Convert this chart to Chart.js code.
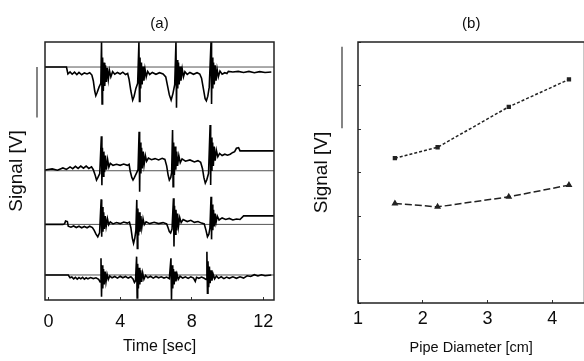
<!DOCTYPE html>
<html lang="en">
<head>
<meta charset="UTF-8">
<title>Signal traces and pipe diameter</title>
<script src="https://cdn.jsdelivr.net/npm/chart.js"></script>
<style>
  html, body { margin: 0; padding: 0; background: #fff; overflow: hidden; }
  #wrapA { position: absolute; left: 0; top: 0; width: 290px; height: 361px; }
  #wrapB { position: absolute; left: 290px; top: 0; width: 300px; height: 361px; }
</style>
</head>
<body>
<div id="wrapA"><canvas id="chartA" width="290" height="361"></canvas></div>
<div id="wrapB"><canvas id="chartB" width="300" height="361"></canvas></div>
<script>
// ---- panel (a): four signal traces, [time sec, signal] ----
const timeTicks = [0, 4, 8, 12];
const baselines = [90.3, 50.1, 29.3, 9.7];

const trace1 = [[-0.2,90.3],[1.0,90.3],[1.08,87.6],[1.2,88.4],[1.32,87.5],[1.45,88.3],[1.58,87.4],[1.7,88.2],[1.85,87.3],[2.0,88],[2.15,87.6],[2.3,88.1],[2.42,87.2],[2.5,85],[2.58,81],[2.64,79.2],[2.72,80.5],[2.82,82.5],[2.92,84],
  [2.96,100],[2.99,76],[3.02,94],[3.06,81],[3.1,92],[3.14,83],[3.18,91],[3.23,84.5],[3.28,90],[3.34,85.5],[3.4,89],[3.48,86.5],[3.58,88.5],[3.7,87.5],[3.85,88.2],[4.0,87.6],[4.15,88.3],[4.3,87.4],[4.42,87.8],[4.5,85.5],[4.6,81],[4.7,77.5],[4.78,79],[4.88,82],[4.98,84],
  [5.05,100],[5.08,77],[5.11,94],[5.15,82],[5.19,92],[5.23,83.5],[5.28,90.5],[5.33,85],[5.39,89.5],[5.46,86.5],[5.54,88.6],[5.65,87.4],[5.8,88.2],[6.0,87.5],[6.2,88.1],[6.4,87.6],[6.55,86.5],[6.65,83],[6.75,79.5],[6.85,77.5],[6.95,80],[7.05,83.5],
  [7.12,100],[7.15,74.5],[7.18,93],[7.22,82],[7.26,92],[7.3,83.5],[7.35,90.5],[7.4,85],[7.47,89.5],[7.54,86.5],[7.62,88.5],[7.75,87.4],[7.9,88.2],[8.1,87.5],[8.3,88.1],[8.45,87.6],[8.55,86],[8.65,82],[8.75,78],[8.82,77.2],[8.9,79],[8.98,82.5],
  [9.08,100],[9.11,76],[9.14,94],[9.18,82],[9.22,92],[9.26,83.5],[9.31,91],[9.36,85],[9.42,89.5],[9.49,86.5],[9.58,88.7],[9.7,87.5],[9.85,88.1],[9.97,87.8],[10.05,88.6],[10.3,88.4],[10.6,88.6],[10.9,88.2],[11.2,88.6],[11.5,88.1],[11.8,88.5],[12.1,88.2],[12.45,88.4]];

const trace2 = [[-0.2,50.4],[0.2,50.8],[0.5,50.3],[0.8,51.2],[1.0,50.6],[1.2,51.6],[1.35,50.9],[1.5,51.8],[1.65,51],[1.8,51.9],[1.95,51.1],[2.1,51.9],[2.25,51],[2.4,51.6],[2.5,50.5],[2.6,48.5],[2.68,46.5],[2.76,47.5],[2.86,49],
  [2.95,63.5],[2.98,44.5],[3.01,59],[3.05,48],[3.09,57.5],[3.13,49.5],[3.18,56],[3.23,50.5],[3.3,54.5],[3.37,51.5],[3.45,53],[3.6,52.2],[3.8,52.6],[4.0,52.2],[4.2,52.7],[4.4,52.2],[4.5,52.6],[4.56,50],[4.65,47.5],[4.72,46.5],[4.8,47.5],[4.9,49],[5.0,50.5],
  [5.06,65.2],[5.09,42],[5.12,61],[5.16,49],[5.2,59],[5.24,51],[5.29,57.5],[5.34,52.5],[5.41,56],[5.48,53.8],[5.58,55],[5.75,54.4],[5.95,54.8],[6.15,54.3],[6.35,54.9],[6.5,54.5],[6.6,52],[6.68,48.5],[6.75,46.5],[6.83,47.5],[6.88,49.5],
  [6.93,65.9],[6.96,43.9],[6.99,61],[7.03,48.5],[7.07,59.5],[7.11,50.5],[7.16,57.5],[7.21,52],[7.28,56],[7.36,53.2],[7.46,54.7],[7.65,53.8],[7.9,54.3],[8.15,53.5],[8.35,54],[8.5,53.4],[8.6,51],[8.68,47.5],[8.76,45.3],[8.84,46.5],[8.94,49],
  [9.03,67.8],[9.06,44.6],[9.09,63],[9.13,50],[9.17,61],[9.21,52],[9.26,59.5],[9.31,54],[9.38,58],[9.46,55.5],[9.56,56.8],[9.7,56],[9.85,56.5],[10.0,56.1],[10.15,56.5],[10.3,57.2],[10.4,57.5],[10.5,58.8],[10.62,59],[10.7,57.8],[11.2,57.8],[11.8,57.8],[12.6,57.8]];

const trace3 = [[-0.2,29.3],[0.8,29.3],[0.9,29.6],[0.95,30.6],[1.05,30.4],[1.1,28.6],[1.25,28.2],[1.4,28.7],[1.55,28.1],[1.7,28.6],[1.85,28],[2.0,28.5],[2.15,28],[2.3,28.6],[2.45,28.1],[2.55,27],[2.65,25.5],[2.75,24.5],[2.85,26],
  [2.94,39],[2.97,24.5],[3.0,36],[3.04,26.5],[3.08,34],[3.12,27.5],[3.17,32.5],[3.22,28.5],[3.29,31.5],[3.36,29.2],[3.45,30.3],[3.6,29.5],[3.8,30],[4.0,29.6],[4.2,30.2],[4.4,29.8],[4.52,30.2],[4.6,28],[4.68,24],[4.75,22],[4.82,24],[4.88,27],
  [4.93,38.8],[4.96,20],[4.99,35.5],[5.03,25],[5.07,34],[5.11,26.5],[5.16,32.5],[5.21,28],[5.28,31.5],[5.35,29.2],[5.45,30.3],[5.65,29.6],[5.9,30.1],[6.15,29.6],[6.4,30],[6.6,29.5],[6.68,28],[6.75,26.5],[6.82,26],[6.9,27.5],
  [6.98,39.4],[7.01,20.7],[7.04,36.5],[7.08,25.5],[7.12,35],[7.16,27],[7.21,33.5],[7.26,28.5],[7.33,32],[7.41,30],[7.52,31.2],[7.75,30.4],[7.95,30.9],[8.15,30.1],[8.35,30.4],[8.55,29.8],[8.7,29.5],[8.8,27],[8.88,24.5],[8.96,25.5],[9.02,28],
  [9.08,40],[9.11,23.5],[9.14,37],[9.18,27],[9.22,35],[9.26,28.5],[9.31,33.5],[9.36,30],[9.43,32.5],[9.53,31],[9.7,31.8],[9.9,31.2],[10.1,31.6],[10.3,31],[10.5,31.4],[10.7,31.2],[10.9,32.6],[11.5,32.6],[12.0,32.6],[12.6,32.6]];

const trace4 = [[-0.2,9.7],[1.1,9.7],[1.2,8.6],[1.3,8.9],[1.4,8.2],[1.5,8.8],[1.6,8.1],[1.7,8.7],[1.8,8.2],[1.9,8.8],[2.0,8.1],[2.1,8.6],[2.2,8.2],[2.35,8.7],[2.5,8.3],[2.65,8.6],[2.8,8],[2.88,7],
  [2.93,16.2],[2.96,1.3],[2.99,13.5],[3.03,4.5],[3.07,12],[3.11,6],[3.16,11],[3.21,7],[3.27,10],[3.34,8],[3.42,9.3],[3.55,8.6],[3.7,9.1],[3.85,8.5],[4.0,9.2],[4.15,8.6],[4.3,9.1],[4.45,8.5],[4.6,9],[4.72,8.2],[4.8,6.8],[4.86,7.5],
  [4.92,16.8],[4.95,0.8],[4.98,14],[5.02,4.5],[5.06,12.5],[5.1,6],[5.15,11.5],[5.2,7],[5.26,10.5],[5.33,8],[5.42,9.5],[5.55,8.6],[5.7,9.2],[5.85,8.5],[6.0,9.1],[6.15,8.6],[6.3,9],[6.45,8.5],[6.6,8.9],[6.75,8.3],
  [6.84,16.2],[6.87,0],[6.9,13.5],[6.94,4.5],[6.98,12],[7.02,6],[7.07,11],[7.12,7.2],[7.18,10],[7.25,8],[7.35,9.2],[7.5,8.5],[7.65,9],[7.8,8.4],[7.95,9],[8.1,8.5],[8.2,7.2],[8.27,8.8],[8.4,8.4],[8.55,8.9],[8.7,8.4],[8.8,8],
  [8.85,18.7],[8.88,2.6],[8.91,15],[8.95,5],[8.99,13],[9.03,6.5],[9.08,11.5],[9.13,7.5],[9.2,10],[9.28,8.2],[9.38,9.3],[9.5,8.4],[9.65,9],[9.8,8.3],[9.95,8.9],[10.1,8.4],[10.3,9],[10.5,8.4],[10.7,9],[10.9,8.5],[11.1,9.4],[11.3,9.1],[11.5,9.8],[11.7,9.3],[11.9,9.8],[12.1,9.4],[12.45,9.7]];

// ---- panel (b): signal vs pipe diameter ----
const diameters = [1.57, 2.23, 3.33, 4.26];
const diameterTicks = [1, 2, 3, 4];
const upperSignal = [3.33, 3.58, 4.51, 5.14];
const lowerSignal = [2.29, 2.21, 2.44, 2.71];
const signalTicksB = [0, 1, 2, 3, 4, 5, 6];

Chart.defaults.font.family = '"Liberation Sans", Arial, sans-serif';
Chart.defaults.color = '#0d0d0d';

// box around the plot area
const frame = {
  id: 'frame',
  afterDraw(chart) {
    const a = chart.chartArea, ctx = chart.ctx;
    ctx.save();
    ctx.strokeStyle = '#222';
    ctx.lineWidth = 1.5;
    ctx.strokeRect(a.left, a.top, a.right - a.left, a.bottom - a.top);
    ctx.restore();
  }
};

// vertical scale bar left of the y axis
const scaleBar = {
  id: 'scaleBar',
  afterDraw(chart, args, opts) {
    const y = chart.scales.y, ctx = chart.ctx;
    const x = chart.chartArea.left - opts.gap;
    ctx.save();
    ctx.strokeStyle = '#333';
    ctx.lineWidth = 1.2;
    ctx.beginPath();
    ctx.moveTo(x, y.getPixelForValue(opts.from));
    ctx.lineTo(x, y.getPixelForValue(opts.to));
    ctx.stroke();
    ctx.restore();
  }
};

const toXY = arr => arr.map(p => ({ x: p[0], y: p[1] }));

const traceSets = [trace1, trace2, trace3, trace4].map(t => ({
  data: toXY(t),
  borderColor: '#000',
  borderWidth: 1.6,
  pointRadius: 0
}));
const baselineSets = baselines.map(v => ({
  data: [{ x: -0.2, y: v }, { x: 12.6, y: v }],
  borderColor: '#555',
  borderWidth: 1,
  pointRadius: 0
}));

new Chart(document.getElementById('chartA'), {
  type: 'line',
  data: { datasets: traceSets.concat(baselineSets) },
  options: {
    responsive: false,
    animation: false,
    layout: { padding: { left: 0, right: 16, top: 0, bottom: 0 } },
    plugins: {
      legend: { display: false },
      tooltip: { enabled: false },
      title: { display: true, text: '(a)', fullSize: false, font: { size: 15, weight: 'normal' }, padding: { top: 15, bottom: 9 } },
      scaleBar: { from: 70.7, to: 90.3, gap: 8 }
    },
    scales: {
      x: {
        type: 'linear', min: -0.2, max: 12.6,
        afterBuildTicks: s => { s.ticks = timeTicks.map(v => ({ value: v })); },
        afterFit: s => { s.height = 61; },
        grid: { drawOnChartArea: false, drawTicks: true, tickLength: -3, color: '#333' },
        border: { display: false },
        ticks: { padding: 14.7, font: { size: 18 }, maxRotation: 0 },
        title: { display: true, text: 'Time [sec]', font: { size: 16 }, padding: { top: 0, bottom: 4.4 } }
      },
      y: {
        min: 0, max: 100,
        afterFit: s => { s.width = 45; },
        grid: { display: false },
        border: { display: false },
        ticks: { display: false },
        title: { display: true, text: 'Signal [V]', font: { size: 19 }, padding: { top: 5.6, bottom: 0 } }
      }
    }
  },
  plugins: [frame, scaleBar]
});

new Chart(document.getElementById('chartB'), {
  type: 'line',
  data: {
    datasets: [
      {
        data: diameters.map((d, i) => ({ x: d, y: upperSignal[i] })),
        borderColor: '#222', borderWidth: 1.5, borderDash: [3, 2],
        pointStyle: 'rect', pointRadius: 2, pointBackgroundColor: '#222', pointBorderColor: '#222'
      },
      {
        data: diameters.map((d, i) => ({ x: d, y: lowerSignal[i] })),
        borderColor: '#222', borderWidth: 1.5, borderDash: [7, 3],
        pointStyle: 'triangle', pointRadius: 2.5, pointBackgroundColor: '#222', pointBorderColor: '#222'
      }
    ]
  },
  options: {
    responsive: false,
    animation: false,
    layout: { padding: { left: 0, right: 3.4, top: 0, bottom: 0 } },
    plugins: {
      legend: { display: false },
      tooltip: { enabled: false },
      title: { display: true, text: '(b)', fullSize: false, font: { size: 15, weight: 'normal' }, padding: { top: 15, bottom: 9 } },
      scaleBar: { from: 4.02, to: 5.89, gap: 16 }
    },
    scales: {
      x: {
        type: 'linear', min: 1, max: 4.5,
        afterBuildTicks: s => { s.ticks = diameterTicks.map(v => ({ value: v })); },
        afterFit: s => { s.height = 58; },
        grid: { drawOnChartArea: false, drawTicks: true, tickLength: -3, color: '#333' },
        border: { display: false },
        ticks: { padding: 8.7, font: { size: 18 }, maxRotation: 0 },
        title: { display: true, text: 'Pipe Diameter [cm]', font: { size: 14.5 }, padding: { top: 0, bottom: 4.4 } }
      },
      y: {
        min: 0, max: 6,
        afterBuildTicks: s => { s.ticks = signalTicksB.map(v => ({ value: v })); },
        afterFit: s => { s.width = 68; },
        grid: { drawOnChartArea: false, drawTicks: true, tickLength: -3, color: '#333' },
        border: { display: false },
        ticks: { display: false },
        title: { display: true, text: 'Signal [V]', font: { size: 19 }, padding: { top: 20.6, bottom: 0 } }
      }
    }
  },
  plugins: [frame, scaleBar]
});
</script>
</body>
</html>
